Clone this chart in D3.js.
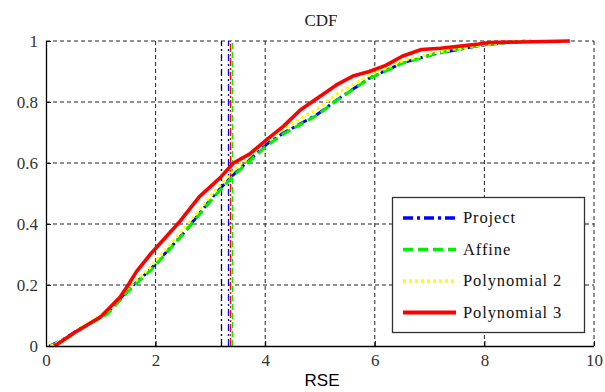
<!DOCTYPE html>
<html>
<head>
<meta charset="utf-8">
<script src="https://cdn.jsdelivr.net/npm/d3@7"></script>
<style>
  body { margin: 0; background: #fff; }
  svg { display: block; }
</style>
</head>
<body>
<svg id="chart" width="605" height="392"></svg>
<script>
// ---- data ----
const xTicks = [0, 2, 4, 6, 8, 10];
const yTicks = [0, 0.2, 0.4, 0.6, 0.8, 1];
const yTickLabels = ["0", "0.2", "0.4", "0.6", "0.8", "1"];
const seriesNames = ["Project", "Affine", "Polynomial 2", "Polynomial 3"];

// empirical CDF samples (RSE, cumulative fraction)
const projectRSE = [0.06, 0.3, 0.62, 1.1, 1.47, 1.9, 2.5, 3.11, 3.42, 4.03, 4.33, 4.94, 5.3, 5.9, 6.5, 7.1, 7.4, 7.9, 8.4, 8.8];
const projectCDF = [0, 0.02, 0.056, 0.105, 0.178, 0.25, 0.368, 0.503, 0.562, 0.662, 0.698, 0.758, 0.806, 0.878, 0.928, 0.958, 0.968, 0.985, 0.995, 1.0];

const affineRSE = [0.1, 0.35, 0.65, 1.12, 1.5, 1.92, 2.5, 3.12, 3.44, 4.05, 4.35, 4.95, 5.3, 5.9, 6.5, 7.1, 7.4, 7.9, 8.4, 8.85];
const affineCDF = [0, 0.022, 0.058, 0.105, 0.18, 0.25, 0.366, 0.5, 0.562, 0.66, 0.697, 0.757, 0.805, 0.877, 0.927, 0.958, 0.97, 0.985, 0.995, 1.0];

const poly2RSE = [0.08, 0.35, 0.65, 1.1, 1.47, 1.9, 2.5, 3.11, 3.42, 4.03, 4.33, 4.94, 5.3, 5.9, 6.5, 7.1, 7.4, 7.9, 8.4, 8.8];
const poly2CDF = [0, 0.024, 0.062, 0.112, 0.186, 0.258, 0.382, 0.515, 0.575, 0.675, 0.712, 0.775, 0.826, 0.888, 0.935, 0.962, 0.972, 0.987, 0.996, 1.0];

const poly3RSE = [0.16, 0.5, 1.0, 1.35, 1.5, 1.65, 1.9, 2.2, 2.45, 2.8, 3.18, 3.42, 3.72, 4.05, 4.33, 4.64, 5.3, 5.6, 5.9, 6.2, 6.5, 6.85, 7.2, 7.9, 8.1, 9.56];
const poly3CDF = [0, 0.042, 0.096, 0.16, 0.2, 0.244, 0.3, 0.36, 0.41, 0.49, 0.552, 0.6, 0.63, 0.68, 0.72, 0.774, 0.856, 0.885, 0.9, 0.92, 0.95, 0.972, 0.976, 0.99, 0.995, 1.0];

// vertical marker lines (RSE value of each method, plus reference)
const markerNames = ["Reference", "Project", "Polynomial 2", "Polynomial 3", "Affine"];
const markerRSE = [3.19, 3.33, 3.37, 3.36, 3.40];

// ---- layout ----
const svg = d3.select("#chart");
const plot = { left: 46, right: 594, top: 41, bottom: 346 };

const x = d3.scaleLinear().domain([0, 10]).range([plot.left, plot.right]);
const y = d3.scaleLinear().domain([0, 1]).range([plot.bottom, plot.top]);

const styles = {
  "Project":      { color: "#0000ff", dash: "10,4,3,4", width: 3 },
  "Affine":       { color: "#00ee00", dash: "10,5",     width: 3.2 },
  "Polynomial 2": { color: "#ffff00", dash: "3,3",      width: 3 },
  "Polynomial 3": { color: "#ff0000", dash: null,       width: 3.6 },
  "Reference":    { color: "#000000", dash: "7,3,2,3",  width: 1.1 }
};
const markerDash = {
  "Reference": "7,3,2,3",
  "Project": "7,3,2,3",
  "Polynomial 2": "2,2",
  "Polynomial 3": "8,2,2,2",
  "Affine": "6,3"
};

const serif = "'Liberation Serif', 'Times New Roman', serif";

// title
svg.append("text")
  .attr("x", 321).attr("y", 26)
  .attr("text-anchor", "middle")
  .attr("font-family", serif).attr("font-size", 17)
  .attr("fill", "#222")
  .text("CDF");

// grid lines (dashed)
const grid = svg.append("g").attr("stroke", "#222").attr("stroke-width", 1)
  .attr("stroke-dasharray", "4,3");
grid.selectAll("line.gx").data(xTicks.filter(d => d > 0)).join("line")
  .attr("x1", d => x(d)).attr("x2", d => x(d))
  .attr("y1", y(0)).attr("y2", y(1));
grid.selectAll("line.gy").data(yTicks.filter(d => d > 0)).join("line")
  .attr("x1", x(0)).attr("x2", x(10))
  .attr("y1", d => y(d)).attr("y2", d => y(d));

// vertical marker lines
svg.append("g").selectAll("line").data(markerNames).join("line")
  .attr("x1", (d, i) => Math.round(x(markerRSE[i])) + 0.5)
  .attr("x2", (d, i) => Math.round(x(markerRSE[i])) + 0.5)
  .attr("y1", y(0)).attr("y2", y(1))
  .attr("stroke", d => styles[d].color)
  .attr("stroke-width", 1.3)
  .attr("stroke-dasharray", d => markerDash[d]);

// curves
const line = d3.line().x(d => x(d[0])).y(d => y(d[1]));
const curveData = {
  "Project": d3.zip(projectRSE, projectCDF),
  "Affine": d3.zip(affineRSE, affineCDF),
  "Polynomial 2": d3.zip(poly2RSE, poly2CDF),
  "Polynomial 3": d3.zip(poly3RSE, poly3CDF)
};
svg.append("g").selectAll("path").data(seriesNames).join("path")
  .attr("d", d => line(curveData[d]))
  .attr("fill", "none")
  .attr("stroke", d => styles[d].color)
  .attr("stroke-width", d => styles[d].width)
  .attr("stroke-dasharray", d => styles[d].dash)
  .attr("stroke-linejoin", "round");

// axes
const xAxis = d3.axisBottom(x).tickValues(xTicks).tickSize(-5).tickPadding(8).tickFormat(d3.format("d"));
const yAxis = d3.axisLeft(y).tickValues(yTicks).tickSize(-5).tickPadding(8).tickFormat((d, i) => yTickLabels[i]);

const gx = svg.append("g").attr("transform", `translate(0,${plot.bottom})`).call(xAxis);
const gy = svg.append("g").attr("transform", `translate(${plot.left},0)`).call(yAxis);
[gx, gy].forEach(g => {
  g.select(".domain").attr("stroke", "#000").attr("stroke-width", 1.3);
  g.selectAll(".tick line").attr("stroke", "#000");
  g.selectAll(".tick text").attr("font-family", serif).attr("font-size", 17).attr("fill", "#333");
});
gx.select(".domain").attr("d", `M${plot.left},0.5H${plot.right}`);
gy.select(".domain").attr("d", `M0.5,${plot.bottom}V${plot.top}`);

// x-axis title
svg.append("text")
  .attr("x", 322).attr("y", 386)
  .attr("text-anchor", "middle")
  .attr("font-family", "'Liberation Sans', Arial, sans-serif").attr("font-size", 17)
  .text("RSE");

// legend
const legend = svg.append("g");
legend.append("rect")
  .attr("x", 392.5).attr("y", 197.5).attr("width", 192).attr("height", 135)
  .attr("fill", "#fff").attr("stroke", "#333").attr("stroke-width", 1.3);
const legendRows = legend.selectAll("g.row").data(seriesNames).join("g")
  .attr("transform", (d, i) => `translate(0,${218 + i * 31.5})`);
legendRows.append("line")
  .attr("x1", 403).attr("x2", 456).attr("y1", 0).attr("y2", 0)
  .attr("stroke", d => styles[d].color)
  .attr("stroke-width", d => styles[d].width + 0.5)
  .attr("stroke-dasharray", d => styles[d].dash);
legendRows.append("text")
  .attr("x", 463).attr("y", 5)
  .attr("font-family", serif).attr("font-size", 16.5)
  .attr("letter-spacing", 0.9)
  .attr("fill", "#111")
  .text(d => d);
</script>
</body>
</html>
